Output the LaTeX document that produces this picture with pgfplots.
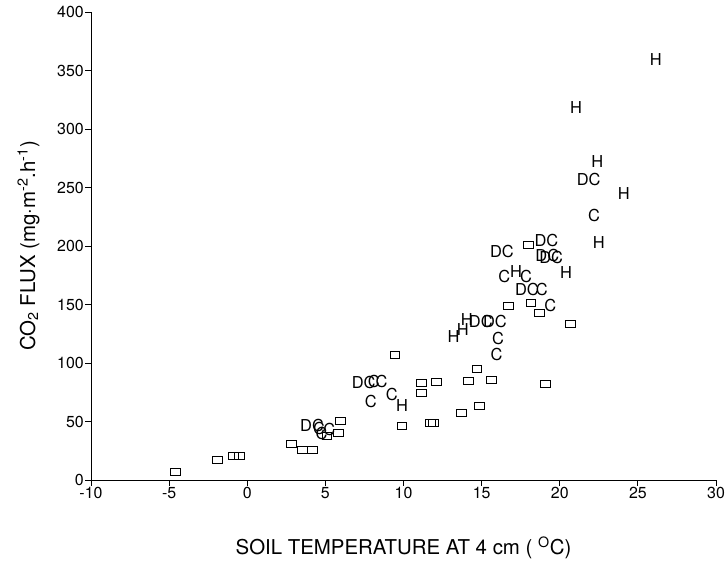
\documentclass[border=0pt]{standalone}
\usepackage{fontspec}
\setmainfont{TeX Gyre Heros}
\usepackage{pgfplots}
\pgfplotsset{compat=1.18}
\usetikzlibrary{plotmarks}
\newcommand{\mk}{\fontsize{16.5}{16.5}\selectfont}
\begin{document}
\begin{tikzpicture}
\begin{axis}[
 at={(0,0)}, anchor=south west,
 scale only axis, width=625bp, height=468bp,
 xmin=-10, xmax=30, ymin=0, ymax=400,
 axis x line=bottom, axis y line=left,
 axis line style={-, line width=0.9pt, black},
 xtick={-10,-5,...,30}, ytick={0,50,...,400},
 tick align=outside, major tick length=5.5bp,
 tick style={line width=0.8pt, black},
 /pgf/number format/assume math mode=true,
 ticklabel style={font=\fontsize{16}{16}\selectfont},
 xticklabel style={inner sep=2pt},
 yticklabel style={inner sep=1.5pt},
 label style={font=\fontsize{20.5}{20.5}\selectfont},
 xlabel={SOIL TEMPERATURE AT 4 cm ( \textsuperscript{O}C)},
 ylabel={CO\textsubscript{2} FLUX (mg\textperiodcentered m\textsuperscript{-2}.h\textsuperscript{-1})},
 xlabel style={at={(axis description cs:0.5,-0.1453)}, anchor=center},
 ylabel style={at={(axis description cs:-0.1,0.5)}, anchor=center},
 clip=false,
]
\addplot[only marks, mark=square, mark size=3.5bp, mark options={xscale=1.4, line width=0.8pt, black, fill=none}] coordinates {
(-4.6,7) (-1.9,17) (-0.9,20.5) (-0.5,20.5) (2.85,30.5) (3.55,26) (4.15,26)
(5.95,50.5) (5.85,40.5) (5.1,37.5) (9.45,107) (11.15,83) (12.1,84) (11.15,74.5)
(9.9,46.5) (11.7,49) (11.9,48.5) (13.7,57) (14.85,63.5) (14.15,85) (14.7,95)
(15.65,85.5) (19.1,82.3) (18.0,201) (16.7,149) (18.15,151) (18.7,143) (20.7,133.5)
};
\addplot[only marks, mark=text, text mark={\mk H}] coordinates {
(26.15,359) (21.05,318) (22.4,272) (24.1,245) (22.5,203) (20.4,177) (17.2,178)
(14.05,137.5) (13.8,129) (13.2,122.5) (9.9,64)
};
\addplot[only marks, mark=text, text mark={\mk C}] coordinates {
(22.2,226) (16.45,174) (17.85,174) (18.85,163) (19.4,149) (16.05,121) (15.95,107)
(7.9,67.5) (9.25,73) (8.1,84) (8.6,84) (4.6,44) (4.75,40) (5.25,43)
};
\addplot[only marks, mark=text, text mark={\mk DC}] coordinates {
(21.85,257) (16.3,195) (19.15,204.5) (19.2,192) (19.45,190) (17.9,163)
(14.95,135.3) (15.85,135.3) (7.45,83) (4.15,47)
};
\end{axis}
\pgfresetboundingbox
\path (-91bp,-81bp) rectangle (636bp,480bp);
\end{tikzpicture}
\end{document}
